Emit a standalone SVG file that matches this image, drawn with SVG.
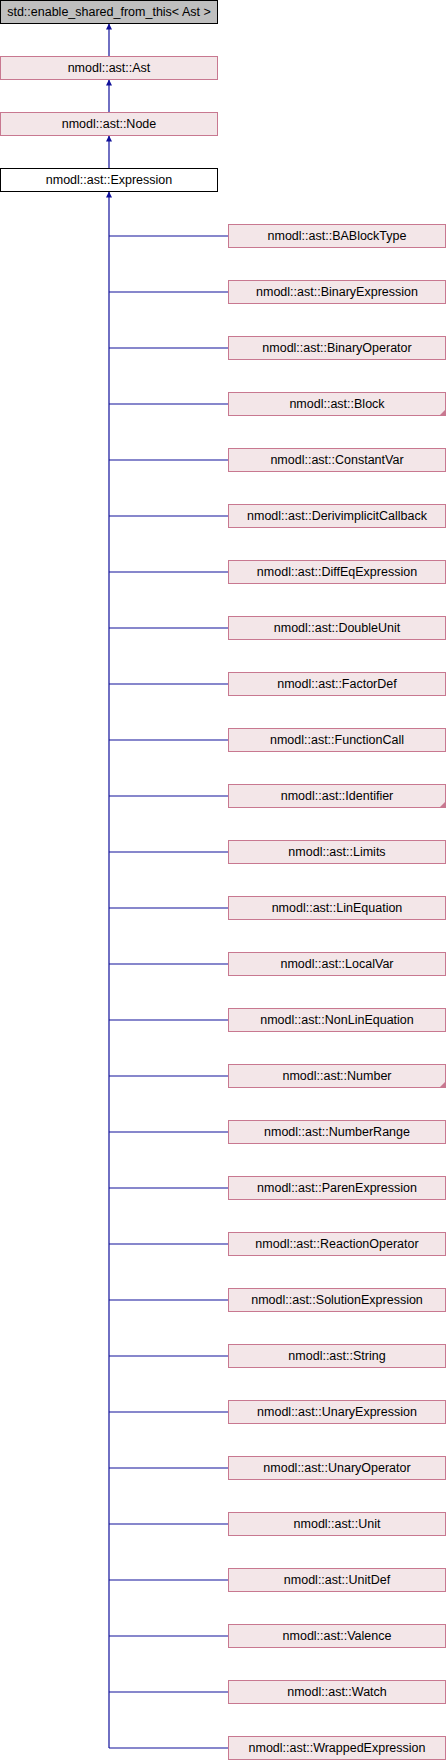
<svg xmlns="http://www.w3.org/2000/svg" width="446" height="1760" viewBox="0 0 446 1760">
<defs>
<style>
.n rect{fill:#f3e6e8;stroke:#c87890;stroke-width:1}
.g rect{fill:#bfbfbf;stroke:#000;stroke-width:1}
.w rect{fill:#fff;stroke:#000;stroke-width:1}
text{font-family:"Liberation Sans",Arial,sans-serif;font-size:12.5px;fill:#000;text-anchor:middle}
.e line{stroke:#10109a;stroke-width:1.2}
.tri{fill:#c87890}
</style>
<marker id="ah" viewBox="0 0 10 10" refX="10" refY="5" markerWidth="10" markerHeight="6" markerUnits="userSpaceOnUse" orient="auto"><path d="M0,0L10,5L0,10z" fill="#10109a"/></marker>
</defs>
<g id="edges" class="e">
<line x1="109" y1="56" x2="109" y2="23.5" marker-end="url(#ah)"/>
<line x1="109" y1="112" x2="109" y2="79.5" marker-end="url(#ah)"/>
<line x1="109" y1="168" x2="109" y2="135.5" marker-end="url(#ah)"/>
<line x1="109" y1="1748" x2="109" y2="191.5" marker-end="url(#ah)"/>
<line x1="109" y1="236" x2="228" y2="236"/>
<line x1="109" y1="292" x2="228" y2="292"/>
<line x1="109" y1="348" x2="228" y2="348"/>
<line x1="109" y1="404" x2="228" y2="404"/>
<line x1="109" y1="460" x2="228" y2="460"/>
<line x1="109" y1="516" x2="228" y2="516"/>
<line x1="109" y1="572" x2="228" y2="572"/>
<line x1="109" y1="628" x2="228" y2="628"/>
<line x1="109" y1="684" x2="228" y2="684"/>
<line x1="109" y1="740" x2="228" y2="740"/>
<line x1="109" y1="796" x2="228" y2="796"/>
<line x1="109" y1="852" x2="228" y2="852"/>
<line x1="109" y1="908" x2="228" y2="908"/>
<line x1="109" y1="964" x2="228" y2="964"/>
<line x1="109" y1="1020" x2="228" y2="1020"/>
<line x1="109" y1="1076" x2="228" y2="1076"/>
<line x1="109" y1="1132" x2="228" y2="1132"/>
<line x1="109" y1="1188" x2="228" y2="1188"/>
<line x1="109" y1="1244" x2="228" y2="1244"/>
<line x1="109" y1="1300" x2="228" y2="1300"/>
<line x1="109" y1="1356" x2="228" y2="1356"/>
<line x1="109" y1="1412" x2="228" y2="1412"/>
<line x1="109" y1="1468" x2="228" y2="1468"/>
<line x1="109" y1="1524" x2="228" y2="1524"/>
<line x1="109" y1="1580" x2="228" y2="1580"/>
<line x1="109" y1="1636" x2="228" y2="1636"/>
<line x1="109" y1="1692" x2="228" y2="1692"/>
<line x1="109" y1="1748" x2="228" y2="1748"/>
</g>
<g id="enable_shared" class="g"><rect x="0.5" y="0.5" width="217" height="23"/><text x="109" y="16">std::enable_shared_from_this&lt; Ast &gt;</text></g>
<g id="Ast" class="n"><rect x="0.5" y="56.5" width="217" height="23"/><text x="109" y="72">nmodl::ast::Ast</text></g>
<g id="Node" class="n"><rect x="0.5" y="112.5" width="217" height="23"/><text x="109" y="128">nmodl::ast::Node</text></g>
<g id="Expression" class="w"><rect x="0.5" y="168.5" width="217" height="23"/><text x="109" y="184">nmodl::ast::Expression</text></g>
<g id="BABlockType" class="n"><rect x="228.5" y="224.5" width="217" height="23"/><text x="337" y="240">nmodl::ast::BABlockType</text></g>
<g id="BinaryExpression" class="n"><rect x="228.5" y="280.5" width="217" height="23"/><text x="337" y="296">nmodl::ast::BinaryExpression</text></g>
<g id="BinaryOperator" class="n"><rect x="228.5" y="336.5" width="217" height="23"/><text x="337" y="352">nmodl::ast::BinaryOperator</text></g>
<g id="Block" class="n"><rect x="228.5" y="392.5" width="217" height="23"/><path class="tri" d="M446,409L446,416L439,416z"/><text x="337" y="408">nmodl::ast::Block</text></g>
<g id="ConstantVar" class="n"><rect x="228.5" y="448.5" width="217" height="23"/><text x="337" y="464">nmodl::ast::ConstantVar</text></g>
<g id="DerivimplicitCallback" class="n"><rect x="228.5" y="504.5" width="217" height="23"/><text x="337" y="520">nmodl::ast::DerivimplicitCallback</text></g>
<g id="DiffEqExpression" class="n"><rect x="228.5" y="560.5" width="217" height="23"/><text x="337" y="576">nmodl::ast::DiffEqExpression</text></g>
<g id="DoubleUnit" class="n"><rect x="228.5" y="616.5" width="217" height="23"/><text x="337" y="632">nmodl::ast::DoubleUnit</text></g>
<g id="FactorDef" class="n"><rect x="228.5" y="672.5" width="217" height="23"/><text x="337" y="688">nmodl::ast::FactorDef</text></g>
<g id="FunctionCall" class="n"><rect x="228.5" y="728.5" width="217" height="23"/><text x="337" y="744">nmodl::ast::FunctionCall</text></g>
<g id="Identifier" class="n"><rect x="228.5" y="784.5" width="217" height="23"/><path class="tri" d="M446,801L446,808L439,808z"/><text x="337" y="800">nmodl::ast::Identifier</text></g>
<g id="Limits" class="n"><rect x="228.5" y="840.5" width="217" height="23"/><text x="337" y="856">nmodl::ast::Limits</text></g>
<g id="LinEquation" class="n"><rect x="228.5" y="896.5" width="217" height="23"/><text x="337" y="912">nmodl::ast::LinEquation</text></g>
<g id="LocalVar" class="n"><rect x="228.5" y="952.5" width="217" height="23"/><text x="337" y="968">nmodl::ast::LocalVar</text></g>
<g id="NonLinEquation" class="n"><rect x="228.5" y="1008.5" width="217" height="23"/><text x="337" y="1024">nmodl::ast::NonLinEquation</text></g>
<g id="Number" class="n"><rect x="228.5" y="1064.5" width="217" height="23"/><path class="tri" d="M446,1081L446,1088L439,1088z"/><text x="337" y="1080">nmodl::ast::Number</text></g>
<g id="NumberRange" class="n"><rect x="228.5" y="1120.5" width="217" height="23"/><text x="337" y="1136">nmodl::ast::NumberRange</text></g>
<g id="ParenExpression" class="n"><rect x="228.5" y="1176.5" width="217" height="23"/><text x="337" y="1192">nmodl::ast::ParenExpression</text></g>
<g id="ReactionOperator" class="n"><rect x="228.5" y="1232.5" width="217" height="23"/><text x="337" y="1248">nmodl::ast::ReactionOperator</text></g>
<g id="SolutionExpression" class="n"><rect x="228.5" y="1288.5" width="217" height="23"/><text x="337" y="1304">nmodl::ast::SolutionExpression</text></g>
<g id="String" class="n"><rect x="228.5" y="1344.5" width="217" height="23"/><text x="337" y="1360">nmodl::ast::String</text></g>
<g id="UnaryExpression" class="n"><rect x="228.5" y="1400.5" width="217" height="23"/><text x="337" y="1416">nmodl::ast::UnaryExpression</text></g>
<g id="UnaryOperator" class="n"><rect x="228.5" y="1456.5" width="217" height="23"/><text x="337" y="1472">nmodl::ast::UnaryOperator</text></g>
<g id="Unit" class="n"><rect x="228.5" y="1512.5" width="217" height="23"/><text x="337" y="1528">nmodl::ast::Unit</text></g>
<g id="UnitDef" class="n"><rect x="228.5" y="1568.5" width="217" height="23"/><text x="337" y="1584">nmodl::ast::UnitDef</text></g>
<g id="Valence" class="n"><rect x="228.5" y="1624.5" width="217" height="23"/><text x="337" y="1640">nmodl::ast::Valence</text></g>
<g id="Watch" class="n"><rect x="228.5" y="1680.5" width="217" height="23"/><text x="337" y="1696">nmodl::ast::Watch</text></g>
<g id="WrappedExpression" class="n"><rect x="228.5" y="1736.5" width="217" height="23"/><text x="337" y="1752">nmodl::ast::WrappedExpression</text></g>
</svg>
